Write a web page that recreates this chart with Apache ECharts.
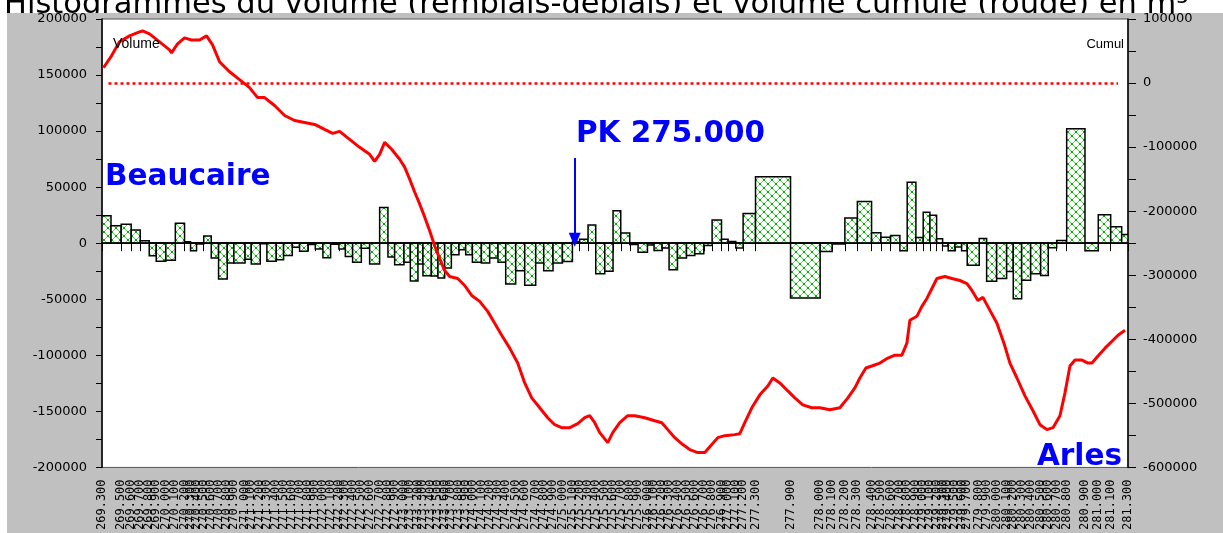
<!DOCTYPE html>
<html>
<head>
<meta charset="utf-8">
<script src="https://cdn.jsdelivr.net/npm/echarts@6/dist/echarts.min.js"></script>
<style>
html, body { margin: 0; padding: 0; background: #fff; }
#main { width: 1223px; height: 533px; }
</style>
</head>
<body>
<div id="main"></div>
<script>
// abscisses des bornes (m le long du profil) et PK correspondants
var abscisses = [0,90,192,292,382,472,542,638,733,825,
  885,945,1017,1092,1165,1252,1318,1430,1492,1582,
  1648,1742,1815,1902,1975,2058,2132,2208,2285,2368,
  2432,2505,2592,2675,2775,2858,2925,3018,3082,3158,
  3208,3292,3358,3425,3492,3568,3635,3702,3792,3875,
  3958,4035,4135,4225,4335,4415,4508,4602,4702,4775,
  4858,4935,5025,5108,5185,5275,5358,5452,5518,5598,
  5668,5752,5842,5925,6015,6098,6192,6258,6335,6408,
  6532,6882,7178,7298,7425,7550,7692,7785,7882,7975,
  8048,8135,8208,8275,8342,8402,8458,8525,8592,8648,
  8768,8842,8942,9042,9108,9192,9282,9382,9458,9542,
  9642,9825,9958,10082,10192,10255];

var pkLabels = [269.3,269.4,269.5,269.6,269.7,269.8,269.9,270.0,270.1,270.2,
  270.3,270.4,270.5,270.6,270.7,270.8,270.9,271.0,271.1,271.2,
  271.3,271.4,271.5,271.6,271.7,271.8,271.9,272.0,272.1,272.2,
  272.3,272.4,272.5,272.6,272.7,272.8,272.9,273.0,273.1,273.2,
  273.3,273.4,273.5,273.6,273.7,273.8,273.9,274.0,274.1,274.2,
  274.3,274.4,274.5,274.6,274.7,274.8,274.9,275.0,275.1,275.2,
  275.3,275.4,275.5,275.6,275.7,275.8,275.9,276.0,276.1,276.2,
  276.3,276.4,276.5,276.6,276.7,276.8,276.9,277.0,277.1,277.2,
  277.3,277.9,278.0,278.1,278.2,278.3,278.4,278.5,278.6,278.7,
  278.8,278.9,279.0,279.1,279.2,279.3,279.4,279.5,279.6,279.7,
  279.8,279.9,280.0,280.1,280.2,280.3,280.4,280.5,280.6,280.7,
  280.8,280.9,281.0,281.1,281.2,281.3];

// volume (remblais - déblais) par tronçon, m3
var volumes = [24600,15500,16900,11700,2200,-11100,-16000,-15100,17900,1300,
  -6800,-600,6400,-13100,-31900,-17700,-17700,-14200,-18600,-400,
  -16000,-14800,-10900,-3500,-7100,-1200,-5100,-13000,-900,-5100,
  -11800,-16900,-4400,-18600,31900,-12400,-19200,-16900,-33700,-18600,
  -29000,-29300,-31000,-22200,-10400,-5900,-10400,-16900,-17700,-13300,
  -16900,-36400,-24600,-37500,-17700,-24600,-17700,-16200,1500,3500,
  16200,-27200,-25100,29000,9100,-1200,-8000,-1500,-6500,-4200,
  -23700,-13300,-10900,-9500,-2000,20700,3500,1500,-4200,26600,
  59200,-48800,-7500,-700,22400,37200,9300,5300,6900,-6700,
  54300,5100,27700,25000,4000,-2500,-6700,-3400,-6700,-19700,
  4300,-34000,-31500,-25300,-49500,-33000,-27300,-28800,-4000,2500,
  102200,-6700,25300,14600,7700];

// volume cumulé (courbe rouge)
var cumulX = [15,95,175,275,375,405,475,575,675,695,755,825,895,975,1045,1105,1175,1275,1375,1475,
  1555,1625,1725,1825,1925,2025,2125,2225,2305,2375,2475,2575,2675,2725,2775,2825,2895,2975,3025,3075,
  3125,3175,3225,3275,3325,3375,3425,3475,3555,3625,3695,3775,3855,3925,3995,4075,4155,4225,4295,4375,
  4455,4525,4595,4675,4755,4825,4875,4925,4975,5055,5105,5175,5255,5325,5425,5525,5595,5655,5725,5805,
  5875,5955,6025,6095,6155,6225,6325,6375,6425,6495,6575,6655,6705,6775,6855,6925,7005,7095,7175,7275,
  7375,7455,7525,7575,7635,7695,7775,7855,7925,7995,8045,8075,8145,8195,8245,8295,8345,8425,8495,8575,
  8645,8695,8755,8805,8875,8945,9015,9075,9145,9225,9305,9375,9445,9505,9575,9625,9675,9725,9795,9855,
  9895,9955,10025,10095,10155,10225];
var cumulY = [23900,42500,64300,73600,79800,81300,76700,64300,51900,47200,61100,70500,67300,67300,73600,59600,33200,17700,5300,-7100,
  -22700,-22700,-35100,-50600,-58400,-61500,-64600,-72400,-78600,-75500,-87900,-100300,-111200,-122100,-111200,-92500,-103300,-118900,-131300,-149900,
  -170100,-188700,-208900,-230600,-253900,-274100,-292700,-302000,-305100,-316000,-331500,-340800,-356400,-375000,-393600,-413800,-437100,-468100,-491400,-506900,
  -522400,-533300,-537900,-537900,-531700,-522400,-519300,-530200,-545700,-561200,-545700,-530200,-519300,-519300,-522400,-527100,-530200,-541000,-553500,-564300,
  -572100,-576800,-576800,-564300,-553500,-550400,-548800,-547300,-530200,-506900,-486700,-472800,-460400,-468100,-480600,-491400,-502300,-506900,-506900,-510000,
  -506900,-491400,-475800,-460400,-444800,-441700,-437100,-429300,-424700,-424700,-406000,-370300,-364100,-348600,-336200,-320700,-305100,-302000,-305100,-308200,
  -312900,-323800,-339300,-334600,-354800,-375000,-406000,-437100,-460400,-488300,-511600,-533300,-541000,-537900,-519300,-483600,-441700,-432400,-432400,-437100,
  -437100,-426200,-413800,-403000,-393600,-385800];

var repereX = 4725;          // flèche PK 275.000
var zeroCumul = [65, 10155]; // étendue du pointillé rouge

var pkParAbscisse = {};
abscisses.forEach(function (a, i) { pkParAbscisse[a] = pkLabels[i]; });

function hachures() {
  var c = document.createElement('canvas');
  c.width = 8; c.height = 8;
  var g = c.getContext('2d');
  g.fillStyle = '#fff';
  g.fillRect(0, 0, 8, 8);
  g.strokeStyle = '#5ad85a';
  g.lineWidth = 1;
  g.beginPath();
  g.moveTo(0, 0); g.lineTo(8, 8);
  g.moveTo(8, 0); g.lineTo(0, 8);
  g.stroke();
  g.fillStyle = '#00b000';
  g.fillRect(3, 3, 2, 2);
  g.fillRect(0, 0, 1, 1); g.fillRect(7, 0, 1, 1);
  g.fillRect(0, 7, 1, 1); g.fillRect(7, 7, 1, 1);
  return c;
}
var motif = { image: hachures(), repeat: 'repeat' };

var barres = volumes.map(function (v, i) {
  return [abscisses[i], abscisses[i + 1], v];
});
var courbe = cumulX.map(function (x, i) { return [x, cumulY[i]]; });

var axisFont = {
  color: '#000', fontFamily: 'DejaVu Sans', fontSize: 13, padding: [5, 0, 0, 0],
  formatter: function (v) { return String(v); }
};

var myChart = echarts.init(document.getElementById('main'));
var option = {
  backgroundColor: '#fff',
  animation: false,
  title: {
    text: 'Histogrammes du volume (remblais-déblais) et volume cumulé (rouge) en m³',
    left: -1,
    top: -15,
    z: 0,
    textStyle: { color: '#000', fontFamily: 'DejaVu Sans', fontSize: 30.5, fontWeight: 'normal' }
  },
  graphic: [
    { type: 'rect', left: 7, top: 13, z: 1, shape: { width: 1216, height: 520 }, style: { fill: '#c0c0c0' } },
    { type: 'text', x: 113, y: 44, z: 10, style: { text: 'Volume', fill: '#000', font: '14px "Liberation Sans"', verticalAlign: 'middle' } },
    { type: 'text', x: 1124, y: 44, z: 10, style: { text: 'Cumul', fill: '#000', font: '13px "Liberation Sans"', align: 'right', verticalAlign: 'middle' } },
    { type: 'text', x: 105, y: 177, z: 10, style: { text: 'Beaucaire', fill: '#0000ff', font: 'bold 29.5px "DejaVu Sans"', verticalAlign: 'middle' } },
    { type: 'text', x: 576, y: 134, z: 10, style: { text: 'PK 275.000', fill: '#0000ff', font: 'bold 29.5px "DejaVu Sans"', verticalAlign: 'middle' } },
    { type: 'text', x: 1122, y: 457, z: 10, style: { text: 'Arles', fill: '#0000ff', font: 'bold 29.5px "DejaVu Sans"', align: 'right', verticalAlign: 'middle' } }
  ],
  grid: {
    left: 102, right: 95, top: 19, bottom: 63,
    show: true, backgroundColor: '#fff', borderColor: '#555', borderWidth: 1, z: 2
  },
  xAxis: {
    type: 'value', min: 0, max: 10255, z: 3,
    splitLine: { show: false },
    axisLine: { lineStyle: { color: '#000', width: 1.5 } },
    axisTick: { customValues: abscisses, length: 8, lineStyle: { color: '#000' } },
    axisLabel: {
      customValues: abscisses, rotate: 90, margin: 12,
      hideOverlap: false, showMinLabel: true, showMaxLabel: true,
      color: '#000', fontFamily: 'DejaVu Sans Mono', fontSize: 12,
      formatter: function (v) { return pkParAbscisse[v] !== undefined ? pkParAbscisse[v].toFixed(3) : ''; }
    }
  },
  yAxis: [
    {
      type: 'value', position: 'left', min: -200000, max: 200000, interval: 50000, z: 3,
      splitLine: { show: false },
      axisLine: { show: true, lineStyle: { color: '#000', width: 1.5 } },
      axisTick: { show: true, length: 6, lineStyle: { color: '#000' } },
      minorTick: { show: true, splitNumber: 2, length: 6, lineStyle: { color: '#000' } },
      axisLabel: Object.assign({ margin: 15 }, axisFont)
    },
    {
      type: 'value', position: 'right', min: -600000, max: 100000, interval: 100000, z: 3,
      splitLine: { show: false },
      axisLine: { show: true, lineStyle: { color: '#000', width: 1.5 } },
      axisTick: { show: true, length: 8, lineStyle: { color: '#000' } },
      minorTick: { show: true, splitNumber: 2, length: 8, lineStyle: { color: '#000' } },
      axisLabel: Object.assign({ margin: 15 }, axisFont)
    }
  ],
  series: [
    {
      name: 'Volume',
      type: 'custom',
      yAxisIndex: 0,
      z: 4,
      clip: true,
      encode: { x: [0, 1], y: 2 },
      data: barres,
      renderItem: function (params, api) {
        var a = api.coord([api.value(0), 0]);
        var b = api.coord([api.value(1), api.value(2)]);
        return {
          type: 'rect',
          shape: { x: a[0], y: Math.min(a[1], b[1]), width: b[0] - a[0], height: Math.abs(b[1] - a[1]) },
          style: { fill: motif, stroke: '#000', lineWidth: 1.5 }
        };
      },
      markLine: {
        silent: true,
        symbol: 'none',
        label: { show: false },
        data: [
          { yAxis: 0, lineStyle: { color: '#000', width: 1.5, type: 'solid' } },
          [
            { coord: [repereX, 76000], lineStyle: { color: '#0000ff', width: 2, type: 'solid' } },
            { coord: [repereX, 3000], symbol: 'triangle', symbolSize: [12, 14] }
          ]
        ]
      }
    },
    {
      name: 'Cumul',
      type: 'line',
      yAxisIndex: 1,
      z: 5,
      showSymbol: false,
      smooth: false,
      data: courbe,
      lineStyle: { color: '#ff0000', width: 3 },
      itemStyle: { color: '#ff0000' },
      markLine: {
        silent: true,
        symbol: 'none',
        label: { show: false },
        lineStyle: { color: '#ff0000', width: 2.5, type: [3, 3] },
        data: [[{ coord: [zeroCumul[0], 0] }, { coord: [zeroCumul[1], 0] }]]
      }
    }
  ]
};
myChart.setOption(option);
</script>
</body>
</html>
